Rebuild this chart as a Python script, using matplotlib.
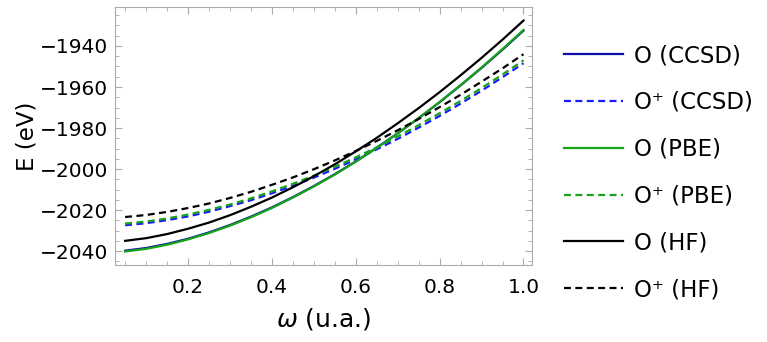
import matplotlib
matplotlib.use("Agg")
import matplotlib.pyplot as plt
from matplotlib.ticker import MultipleLocator

plt.rcParams['font.family'] = ['DejaVu Sans']
plt.rcParams['mathtext.fontset'] = 'dejavusans'
plt.rcParams['lines.scale_dashes'] = False

omega = [0.05, 0.10, 0.15, 0.20, 0.25, 0.30, 0.35, 0.40, 0.45, 0.50,
         0.55, 0.60, 0.65, 0.70, 0.75, 0.80, 0.85, 0.90, 0.95, 1.00]

O_ccsd = [-2039.8, -2038.5, -2036.5, -2034.0, -2030.9, -2027.3, -2023.2, -2018.7, -2013.7, -2008.3,
          -2002.5, -1996.3, -1989.6, -1982.6, -1975.2, -1967.4, -1959.2, -1950.7, -1941.8, -1932.5]
Op_ccsd = [-2027.4, -2026.4, -2024.9, -2023.1, -2020.8, -2018.1, -2015.2, -2011.8, -2008.2, -2004.2,
           -1999.9, -1995.3, -1990.4, -1985.3, -1979.8, -1974.1, -1968.1, -1961.8, -1955.2, -1948.4]
O_pbe = [-2040.2, -2038.9, -2036.9, -2034.3, -2031.2, -2027.6, -2023.5, -2019.0, -2013.9, -2008.5,
         -2002.7, -1996.4, -1989.7, -1982.6, -1975.2, -1967.3, -1959.1, -1950.5, -1941.5, -1932.2]
Op_pbe = [-2026.6, -2025.6, -2024.1, -2022.2, -2019.9, -2017.3, -2014.3, -2010.9, -2007.2, -2003.2,
          -1998.9, -1994.3, -1989.4, -1984.1, -1978.6, -1972.8, -1966.8, -1960.5, -1953.9, -1947.0]
O_hf = [-2035.0, -2033.7, -2031.7, -2029.1, -2026.1, -2022.5, -2018.4, -2013.9, -2008.9, -2003.5,
        -1997.7, -1991.4, -1984.8, -1977.7, -1970.3, -1962.5, -1954.3, -1945.8, -1936.9, -1927.6]
Op_hf = [-2023.4, -2022.4, -2020.9, -2019.0, -2016.8, -2014.1, -2011.1, -2007.7, -2004.1, -2000.1,
         -1995.8, -1991.2, -1986.3, -1981.1, -1975.6, -1969.8, -1963.8, -1957.4, -1950.9, -1944.0]

labels = ['O (CCSD)', 'O\u207a (CCSD)', 'O (PBE)', 'O\u207a (PBE)', 'O (HF)', 'O\u207a (HF)']
xticks = [0.2, 0.4, 0.6, 0.8, 1.0]
xticklabels = ['0.2', '0.4', '0.6', '0.8', '1.0']
yticks = [-2040, -2020, -2000, -1980, -1960, -1940]
yticklabels = ['\u22122040', '\u22122020', '\u22122000', '\u22121980', '\u22121960', '\u22121940']

fig = plt.figure(figsize=(7.67, 3.42), dpi=100)
ax = fig.add_axes([0.150, 0.225, 0.544, 0.7545])

dash = (5, 3.2)
lw = 1.6
blue_dark = '#0d0da8'
blue = '#1a1aff'
green = '#17a317'

l1, = ax.plot(omega, O_ccsd, color=blue_dark, lw=lw)
l2, = ax.plot(omega, Op_ccsd, color=blue, lw=lw, dashes=dash)
l3, = ax.plot(omega, O_pbe, color=green, lw=lw)
l4, = ax.plot(omega, Op_pbe, color=green, lw=lw, dashes=dash)
l5, = ax.plot(omega, O_hf, color='black', lw=lw)
l6, = ax.plot(omega, Op_hf, color='black', lw=lw, dashes=dash)

ax.set_xlim(0.026, 1.021)
ax.set_ylim(-2046.8, -1921.0)
ax.xaxis.set_minor_locator(MultipleLocator(0.05))
ax.yaxis.set_minor_locator(MultipleLocator(5))
ax.set_xticks(xticks)
ax.set_xticklabels(xticklabels)
ax.set_yticks(yticks)
ax.set_yticklabels(yticklabels)

ax.tick_params(which='both', direction='in', top=True, right=True, color='#aaaaaa',
               labelsize=14.5, labelcolor='black')
ax.tick_params(axis='x', which='major', pad=9)
ax.tick_params(axis='y', which='major', pad=5)
ax.tick_params(which='major', length=5, width=0.8)
ax.tick_params(which='minor', length=3, width=0.6)
for s in ax.spines.values():
    s.set_color('#aaaaaa')
    s.set_linewidth(0.8)

ax.set_xlabel(r'$\mathit{\omega}$ (u.a.)', fontsize=18, labelpad=7)
ax.set_ylabel('E (eV)', fontsize=16.5, labelpad=1)

fig.legend([l1, l2, l3, l4, l5, l6], labels, loc='upper left',
           bbox_to_anchor=(0.735, 0.871), frameon=False, fontsize=16.5,
           handlelength=2.58, handletextpad=0.48, labelspacing=1.04,
           borderaxespad=0, borderpad=0)

fig.savefig('out.png', dpi=100)
